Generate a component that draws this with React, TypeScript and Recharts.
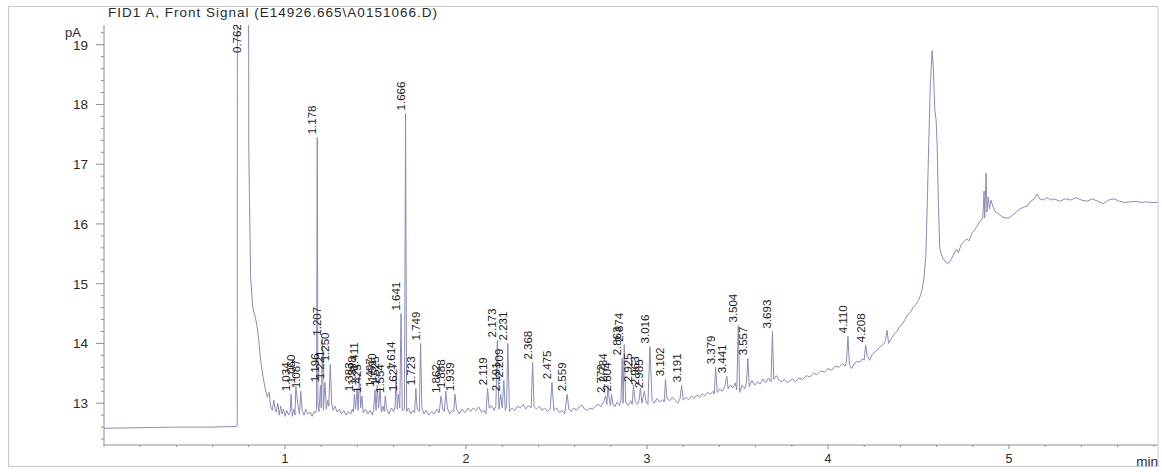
import { ComposedChart, Line, Scatter, XAxis, YAxis } from "recharts"

// FID trace, [min, pA]; integrated peaks are merged in below
const trace: [number, number][] = [
  [0, 12.58], [0.2, 12.59], [0.4, 12.6], [0.6, 12.6], [0.73, 12.61], [0.736, 12.62],
  [0.738, 30], [0.794, 30], [0.8, 17.2], [0.81, 15.1], [0.822, 14.6], [0.835, 14.45],
  [0.845, 14.3], [0.855, 14.05], [0.866, 13.7], [0.878, 13.45], [0.89, 13.25], [0.902, 13.1],
  [0.912, 13.18], [0.92, 12.95], [0.93, 12.88], [0.938, 13.05], [0.945, 12.9], [0.952, 12.85],
  [0.96, 13.0], [0.968, 12.8], [0.976, 12.95], [0.984, 12.82], [0.992, 12.9], [1.0, 12.78],
  [1.01, 12.88], [1.02, 12.8], [1.028, 12.86], [1.04, 12.78], [1.05, 12.9], [1.055, 12.8],
  [1.072, 12.95], [1.08, 12.82], [1.095, 12.88], [1.105, 12.8], [1.115, 12.9], [1.125, 12.82],
  [1.14, 12.85], [1.15, 12.78], [1.16, 12.86], [1.17, 12.84], [1.174, 12.9], [1.182, 12.95],
  [1.188, 12.86], [1.2, 12.92], [1.212, 12.88], [1.228, 12.9], [1.236, 13.05], [1.242, 12.95],
  [1.258, 12.98], [1.266, 12.88], [1.276, 12.95], [1.288, 12.85], [1.3, 12.9], [1.312, 12.82],
  [1.325, 12.88], [1.338, 12.8], [1.35, 12.86], [1.362, 12.82], [1.372, 12.9], [1.378, 12.85],
  [1.39, 12.9], [1.404, 12.88], [1.418, 12.92], [1.432, 12.84], [1.445, 12.9], [1.458, 12.82],
  [1.47, 12.88], [1.482, 12.8], [1.49, 12.9], [1.503, 12.88], [1.517, 12.92], [1.532, 12.85],
  [1.542, 12.95], [1.548, 12.86], [1.562, 12.9], [1.575, 12.82], [1.588, 12.92], [1.6, 12.86],
  [1.608, 12.94], [1.62, 12.9], [1.634, 12.92], [1.648, 12.88], [1.66, 12.9], [1.672, 12.86],
  [1.682, 12.92], [1.695, 12.82], [1.708, 12.88], [1.716, 12.84], [1.73, 12.9], [1.742, 12.86],
  [1.756, 12.92], [1.768, 12.82], [1.78, 12.88], [1.795, 12.8], [1.81, 12.86], [1.825, 12.82],
  [1.84, 12.9], [1.852, 12.84], [1.872, 12.9], [1.88, 12.86], [1.897, 12.92], [1.91, 12.82],
  [1.925, 12.88], [1.932, 12.86], [1.948, 12.9], [1.962, 12.82], [1.978, 12.9], [1.995, 12.84],
  [2.01, 12.92], [2.025, 12.86], [2.04, 12.92], [2.055, 12.88], [2.07, 12.94], [2.085, 12.85],
  [2.1, 12.88], [2.11, 12.82], [2.128, 12.92], [2.14, 12.96], [2.155, 12.88], [2.165, 12.95],
  [2.182, 12.9], [2.2, 12.92], [2.217, 12.88], [2.224, 12.94], [2.24, 12.86], [2.255, 12.92],
  [2.27, 12.88], [2.285, 12.95], [2.3, 12.92], [2.315, 12.98], [2.33, 12.9], [2.345, 12.96],
  [2.36, 12.92], [2.376, 12.94], [2.39, 12.9], [2.405, 12.95], [2.42, 12.88], [2.435, 12.92],
  [2.45, 12.86], [2.465, 12.9], [2.485, 12.88], [2.5, 12.92], [2.515, 12.84], [2.53, 12.88],
  [2.545, 12.82], [2.568, 12.9], [2.58, 12.86], [2.595, 12.92], [2.61, 12.88], [2.625, 12.94],
  [2.64, 12.97], [2.655, 12.9], [2.67, 12.88], [2.685, 12.92], [2.7, 12.9], [2.715, 12.95],
  [2.73, 12.98], [2.745, 12.94], [2.76, 13.02], [2.778, 12.98], [2.792, 13.05], [2.798, 12.96],
  [2.81, 13.0], [2.822, 12.94], [2.835, 13.02], [2.848, 12.96], [2.856, 13.05], [2.868, 13.0],
  [2.882, 13.02], [2.895, 12.96], [2.91, 13.04], [2.918, 12.98], [2.935, 13.02], [2.948, 12.98],
  [2.956, 13.05], [2.972, 13.0], [2.995, 13.02], [3.005, 12.98], [3.028, 13.05], [3.04, 13.0],
  [3.055, 13.08], [3.07, 13.02], [3.085, 13.06], [3.095, 13.02], [3.11, 13.08], [3.125, 13.04],
  [3.14, 13.1], [3.155, 13.05], [3.17, 13.0], [3.183, 13.08], [3.2, 13.05], [3.215, 13.1],
  [3.23, 13.06], [3.245, 13.12], [3.26, 13.08], [3.275, 13.14], [3.29, 13.1], [3.305, 13.16],
  [3.32, 13.12], [3.335, 13.18], [3.35, 13.15], [3.365, 13.2], [3.372, 13.15], [3.388, 13.18],
  [3.4, 13.24], [3.415, 13.2], [3.43, 13.28], [3.448, 13.24], [3.46, 13.3], [3.475, 13.26],
  [3.488, 13.34], [3.496, 13.22], [3.512, 13.18], [3.525, 13.3], [3.54, 13.24], [3.55, 13.35],
  [3.565, 13.28], [3.58, 13.38], [3.595, 13.3], [3.61, 13.36], [3.625, 13.32], [3.64, 13.4],
  [3.655, 13.34], [3.67, 13.42], [3.685, 13.36], [3.7, 13.4], [3.715, 13.46], [3.73, 13.38],
  [3.745, 13.36], [3.76, 13.4], [3.775, 13.34], [3.79, 13.38], [3.805, 13.4], [3.82, 13.36],
  [3.84, 13.42], [3.86, 13.4], [3.88, 13.46], [3.9, 13.44], [3.92, 13.5], [3.94, 13.48],
  [3.96, 13.54], [3.98, 13.52], [4.0, 13.58], [4.02, 13.55], [4.04, 13.62], [4.06, 13.6],
  [4.08, 13.66], [4.095, 13.62], [4.102, 13.7], [4.118, 13.65], [4.13, 13.58], [4.145, 13.66],
  [4.16, 13.7], [4.175, 13.68], [4.19, 13.75], [4.2, 13.72], [4.216, 13.8], [4.23, 13.72],
  [4.245, 13.82], [4.26, 13.86], [4.275, 13.9], [4.29, 13.95], [4.305, 13.98], [4.318, 14.05],
  [4.326, 14.22], [4.335, 14.0], [4.35, 14.08], [4.365, 14.15], [4.38, 14.2], [4.395, 14.28],
  [4.41, 14.32], [4.425, 14.4], [4.44, 14.48], [4.455, 14.52], [4.47, 14.6], [4.485, 14.65],
  [4.5, 14.72], [4.51, 14.8], [4.52, 14.9], [4.53, 15.1], [4.54, 15.45], [4.548, 16.3],
  [4.556, 17.3], [4.565, 18.3], [4.575, 18.9], [4.582, 18.6], [4.59, 17.9], [4.597, 17.75],
  [4.603, 17.3], [4.61, 16.3], [4.617, 15.6], [4.625, 15.5], [4.635, 15.42], [4.65, 15.36],
  [4.665, 15.34], [4.68, 15.4], [4.695, 15.5], [4.71, 15.58], [4.72, 15.52], [4.735, 15.65],
  [4.75, 15.7], [4.765, 15.75], [4.78, 15.72], [4.795, 15.85], [4.81, 15.9], [4.823, 15.96],
  [4.84, 16.05], [4.855, 16.1], [4.862, 16.55], [4.866, 16.1], [4.873, 16.85], [4.878, 16.2],
  [4.885, 16.45], [4.892, 16.25], [4.9, 16.4], [4.91, 16.3], [4.925, 16.2], [4.94, 16.18],
  [4.96, 16.12], [4.98, 16.1], [5.0, 16.1], [5.02, 16.15], [5.04, 16.2], [5.06, 16.25],
  [5.08, 16.28], [5.1, 16.3], [5.12, 16.38], [5.14, 16.42], [5.155, 16.5], [5.17, 16.42],
  [5.19, 16.4], [5.21, 16.44], [5.23, 16.4], [5.25, 16.42], [5.28, 16.38], [5.31, 16.42],
  [5.34, 16.4], [5.37, 16.44], [5.4, 16.4], [5.43, 16.38], [5.46, 16.42], [5.49, 16.38],
  [5.52, 16.34], [5.55, 16.4], [5.58, 16.42], [5.61, 16.38], [5.64, 16.36], [5.67, 16.37],
  [5.7, 16.38], [5.73, 16.36], [5.76, 16.37], [5.79, 16.36], [5.823, 16.36],
]

// retention times (min) as printed, and apex heights (pA)
const peakTimes = [
  "0.762", "1.034", "1.060", "1.087", "1.178", "1.196", "1.207", "1.221", "1.250",
  "1.383", "1.398", "1.411", "1.425", "1.497", "1.510", "1.525", "1.554", "1.614",
  "1.627", "1.641", "1.666", "1.723", "1.749", "1.862", "1.888", "1.939", "2.119",
  "2.173", "2.191", "2.209", "2.231", "2.368", "2.475", "2.559", "2.772", "2.784",
  "2.804", "2.863", "2.874", "2.925", "2.963", "2.985", "3.016", "3.102", "3.191",
  "3.379", "3.441", "3.504", "3.557", "3.693", "4.110", "4.208",
]
const peakHeights = [
  30, 13.15, 13.28, 13.2, 17.45, 13.3, 14.08, 13.35, 13.65,
  13.15, 13.25, 13.5, 13.12, 13.22, 13.3, 13.25, 13.12, 13.5,
  13.15, 14.5, 17.85, 13.25, 14.0, 13.12, 13.2, 13.15, 13.25,
  14.05, 13.15, 13.38, 14.0, 13.68, 13.35, 13.15, 13.12, 13.3,
  13.15, 13.75, 13.98, 13.3, 13.25, 13.2, 13.95, 13.4, 13.3,
  13.6, 13.45, 14.3, 13.75, 14.2, 14.12, 13.97,
]

const yMajor = [13, 14, 15, 16, 17, 18, 19]
const xMajor = [1, 2, 3, 4, 5]

const peaks = peakTimes.map((label, i) => ({ t: parseFloat(label), v: peakHeights[i], label }))
const signal = [
  ...trace.map(([t, v]) => ({ t, v })),
  ...peaks.map(({ t, v }) => ({ t, v })),
].sort((a, b) => a.t - b.t)

const yTicks = Array.from({ length: 35 }, (_, i) => +(12.4 + i * 0.2).toFixed(1))
const xTicks = Array.from({ length: 30 }, (_, i) => +(i * 0.2).toFixed(1))

const FONT = "'Liberation Sans', Arial, sans-serif"
const AXIS = "#8e8e8e"

function YTick({ x, y, payload }: any) {
  const major = yMajor.includes(payload.value)
  return (
    <g>
      <line x1={x - (major ? 8 : 3)} x2={x} y1={y} y2={y} stroke={AXIS} />
      {major && (
        <text x={x - 16} y={y} dy="0.36em" textAnchor="end" fontSize={13.5} fontFamily={FONT} fill="#2a2a2a">
          {payload.value}
        </text>
      )}
    </g>
  )
}

function XTick({ x, y, payload }: any) {
  const major = xMajor.includes(payload.value)
  return (
    <g>
      <line x1={x} x2={x} y1={y} y2={y + (major ? 4 : 2)} stroke={AXIS} />
      {major && (
        <text x={x} y={y + 18} textAnchor="middle" fontSize={12.5} fontFamily={FONT} fill="#2a2a2a">
          {payload.value}
        </text>
      )}
    </g>
  )
}

// retention time printed upright beside the apex; off-scale peaks get pinned to the top
function PeakLabel({ cx, cy, payload }: any) {
  const y = Math.max(cy - 3, 53)
  return (
    <text transform={`translate(${cx - 1},${y}) rotate(-90)`} fontSize={11.5} fontFamily={FONT} fill="#1c1c1c">
      {payload.label}
    </text>
  )
}

export default function App() {
  return (
    <div style={{ position: "absolute", left: 0, top: 0, width: 1162, height: 472, background: "#fff" }}>
      <ComposedChart width={1162} height={472} margin={{ top: 25, right: 4, bottom: 0, left: 0 }}>
        <XAxis
          dataKey="t"
          type="number"
          domain={[0, 5.823]}
          allowDataOverflow
          ticks={xTicks}
          interval={0}
          tickSize={0}
          tickMargin={0}
          tickLine={false}
          tick={<XTick />}
          height={27}
          stroke={AXIS}
        />
        <YAxis
          type="number"
          domain={[12.3, 19.33]}
          allowDataOverflow
          ticks={yTicks}
          interval={0}
          tickSize={0}
          tickMargin={0}
          tickLine={false}
          tick={<YTick />}
          width={104}
          stroke={AXIS}
        />
        <Line
          data={signal}
          dataKey="v"
          type="linear"
          stroke="#8a8db8"
          strokeWidth={1}
          dot={false}
          activeDot={false}
          isAnimationActive={false}
        />
        <Scatter data={peaks} dataKey="v" shape={<PeakLabel />} isAnimationActive={false} />
      </ComposedChart>
      <svg width={1162} height={472} style={{ position: "absolute", left: 0, top: 0, pointerEvents: "none" }}>
        <rect x={8.5} y={6.5} width={1149.5} height={460} fill="none" stroke="#c8c8c8" />
        <text x={108} y={17} fontSize={13.5} letterSpacing={1} fontFamily={FONT} fill="#2a2a2a">
          FID1 A, Front Signal (E14926.665\A0151066.D)
        </text>
        <text x={65} y={37} fontSize={13} fontFamily={FONT} fill="#2a2a2a">pA</text>
        <text x={1158} y={466} textAnchor="end" fontSize={13.5} fontFamily={FONT} fill="#2a2a2a">min</text>
      </svg>
    </div>
  )
}
